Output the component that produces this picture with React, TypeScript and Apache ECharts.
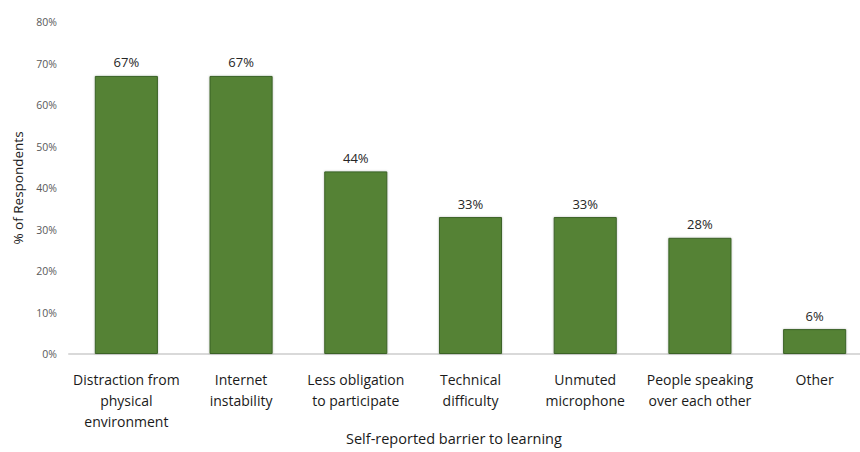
import React, { useEffect, useRef } from "react";
import * as echarts from "echarts";

const categories = [
  "Distraction from\nphysical\nenvironment",
  "Internet\ninstability",
  "Less obligation\nto participate",
  "Technical\ndifficulty",
  "Unmuted\nmicrophone",
  "People speaking\nover each other",
  "Other",
];
const values = [67, 67, 44, 33, 33, 28, 6];
const yAxisTitle = "% of Respondents";
const xAxisTitle = "Self-reported barrier to learning";

const FONT = "'Open Sans', sans-serif";

export default function App() {
  const ref = useRef<HTMLDivElement>(null);
  useEffect(() => {
    if (!ref.current) return;
    const chart = echarts.init(ref.current, null, { renderer: "svg" });
    chart.setOption({
      animation: false,
      backgroundColor: "#ffffff",
      grid: { left: 69, right: 8, top: 22, bottom: 98, containLabel: false },
      xAxis: {
        type: "category",
        data: categories,
        axisLine: { show: true, lineStyle: { color: "#d9d9d9", width: 2 } },
        axisTick: { show: false },
        axisLabel: {
          interval: 0,
          color: "#1a1a1a",
          fontFamily: FONT,
          fontSize: 14,
          lineHeight: 21,
          margin: 15,
        },
      },
      yAxis: {
        type: "value",
        min: 0,
        max: 80,
        interval: 10,
        splitLine: { show: false },
        axisLine: { show: false },
        axisTick: { show: false },
        axisLabel: {
          formatter: "{value}%",
          color: "#595959",
          fontFamily: FONT,
          fontSize: 10.5,
          margin: 12,
        },
        name: yAxisTitle,
        nameLocation: "middle",
        nameGap: 44,
        nameRotate: 90,
        nameTextStyle: { color: "#1a1a1a", fontFamily: FONT, fontSize: 13.5 },
      },
      series: [
        {
          type: "bar",
          data: values,
          barCategoryGap: "45%",
          itemStyle: {
            color: "#548235",
            borderColor: "#3b6226",
            borderWidth: 1,
            shadowColor: "rgba(0,0,0,0.25)",
            shadowBlur: 2,
          },
          label: {
            show: true,
            position: "top",
            formatter: "{c}%",
            color: "#262626",
            fontFamily: FONT,
            fontSize: 13,
            distance: 7,
          },
        },
      ],
      graphic: [
        {
          type: "text",
          left: 346,
          top: 431,
          style: {
            text: xAxisTitle,
            fill: "#1a1a1a",
            font: `14.5px ${FONT}`,
          },
        },
      ],
    });
    return () => chart.dispose();
  }, []);
  return (
    <div
      style={{
        position: "fixed",
        left: 0,
        top: 0,
        width: 860,
        height: 452,
        overflow: "hidden",
        background: "#fff",
      }}
    >
      <div ref={ref} style={{ width: 880, height: 452 }} />
    </div>
  );
}
